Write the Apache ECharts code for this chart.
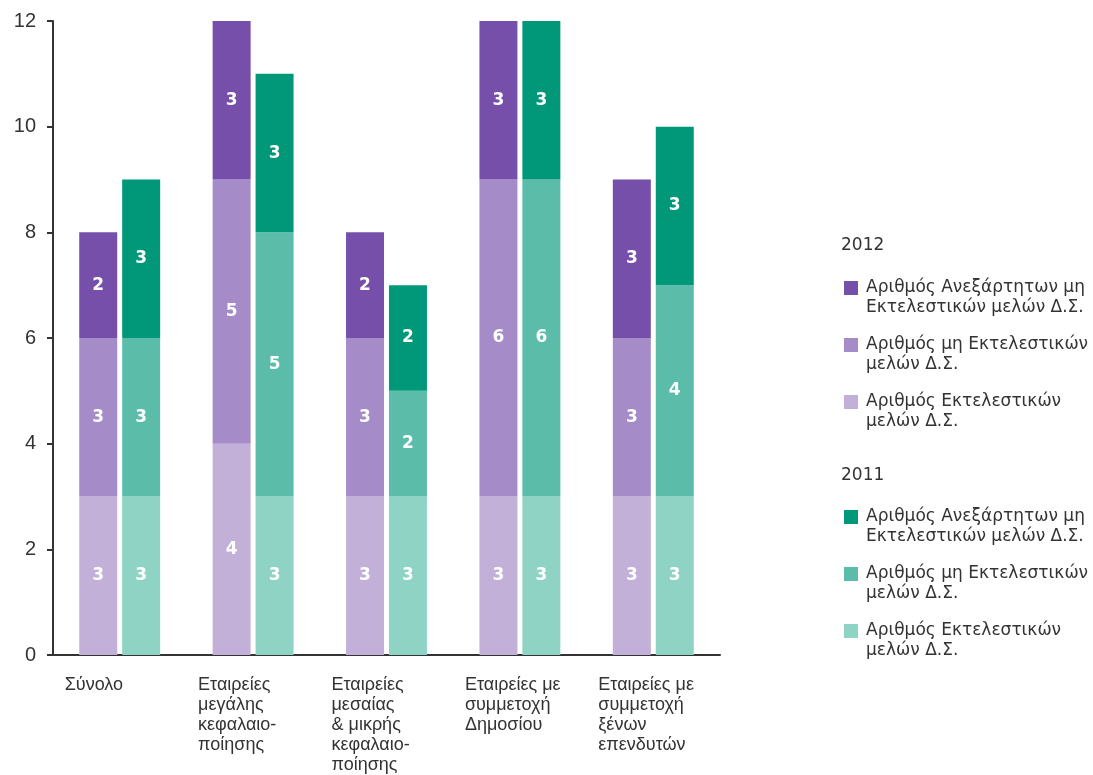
<!DOCTYPE html>
<html>
<head>
<meta charset="utf-8">
<script src="https://cdn.jsdelivr.net/npm/echarts@6/dist/echarts.min.js"></script>
<style>
  html, body { margin: 0; padding: 0; background: #fff; }
  #chart { width: 1093px; height: 775px; }
</style>
</head>
<body>
<div id="chart"></div>
<script>
// κατηγορίες
var categories = ['Σύνολο', 'Εταιρείες\nμεγάλης\nκεφαλαιο-\nποίησης', 'Εταιρείες\nμεσαίας\n& μικρής\nκεφαλαιο-\nποίησης', 'Εταιρείες με\nσυμμετοχή\nΔημοσίου', 'Εταιρείες με\nσυμμετοχή\nξένων\nεπενδυτών'];
var seriesNames = ['Αριθμός Ανεξάρτητων μη\nΕκτελεστικών μελών Δ.Σ.', 'Αριθμός μη Εκτελεστικών\nμελών Δ.Σ.', 'Αριθμός Εκτελεστικών\nμελών Δ.Σ.'];
var years = ['2012', '2011'];

// 2012
var exec2012 = [3, 4, 3, 3, 3];
var nonExec2012 = [3, 5, 3, 6, 3];
var indep2012 = [2, 3, 2, 3, 3];
// 2011
var exec2011 = [3, 3, 3, 3, 3];
var nonExec2011 = [3, 5, 2, 6, 4];
var indep2011 = [3, 3, 2, 3, 3];

var colors2012 = ['#764fab', '#a58cc8', '#c2b0d9'];
var colors2011 = ['#009879', '#5bbca9', '#8fd3c5'];

function bar(year, idx, data, color) {
  return {
    name: year + '|' + seriesNames[idx],
    type: 'bar',
    stack: 's' + year, // όχι αριθμητικό κλειδί, αλλιώς αλλάζει η σειρά
    data: data,
    barWidth: 38,
    barGap: '13%',
    itemStyle: { color: color },
    label: {
      show: true,
      position: 'inside',
      color: '#fff',
      fontWeight: 'bold',
      fontSize: 17,
      fontFamily: 'DejaVu Sans'
    }
  };
}

var series = [
  bar('2012', 2, exec2012, colors2012[2]),
  bar('2012', 1, nonExec2012, colors2012[1]),
  bar('2012', 0, indep2012, colors2012[0]),
  bar('2011', 2, exec2011, colors2011[2]),
  bar('2011', 1, nonExec2011, colors2011[1]),
  bar('2011', 0, indep2011, colors2011[0])
];

function legendFor(year, top) {
  return {
    top: top,
    left: 839,
    orient: 'vertical',
    itemWidth: 14,
    itemHeight: 14,
    itemGap: -3,
    icon: 'rect',
    selectedMode: false,
    data: seriesNames.map(function (n) { return year + '|' + n; }),
    // κενή γραμμή από πάνω ώστε το τετράγωνο να πέφτει στην πρώτη γραμμή
    formatter: function (name) { return ' \n' + name.split('|')[1]; },
    textStyle: { fontSize: 17, color: '#333', fontFamily: 'DejaVu Sans', lineHeight: 20, padding: [0, 0, 0, 3] }
  };
}

var chart = echarts.init(document.getElementById('chart'));
chart.setOption({
  animation: false,
  title: [
    { text: years[0], left: 836, top: 232, textStyle: { fontSize: 17, fontWeight: 'normal', color: '#333', fontFamily: 'DejaVu Sans' } },
    { text: years[1], left: 836, top: 462, textStyle: { fontSize: 17, fontWeight: 'normal', color: '#333', fontFamily: 'DejaVu Sans' } }
  ],
  legend: [legendFor('2012', 253), legendFor('2011', 482)],
  grid: { left: 53, right: 373, top: 21, bottom: 119 },
  xAxis: {
    type: 'category',
    data: categories,
    axisLine: { lineStyle: { color: '#333', width: 2 } },
    axisTick: { length: 8, lineStyle: { color: '#333', width: 2 } },
    axisLabel: {
      align: 'left',
      padding: [0, 0, 0, -55],
      margin: 20,
      fontSize: 18,
      lineHeight: 20,
      color: '#333',
      fontFamily: 'Liberation Sans'
    }
  },
  yAxis: {
    type: 'value',
    min: 0,
    max: 12,
    interval: 2,
    splitLine: { show: false },
    axisLine: { show: true, lineStyle: { color: '#333', width: 2 } },
    axisTick: { show: true, length: 6, lineStyle: { color: '#333', width: 2 } },
    axisLabel: { fontSize: 20, color: '#333', margin: 17, fontFamily: 'Liberation Sans' }
  },
  series: series
});
</script>
</body>
</html>
